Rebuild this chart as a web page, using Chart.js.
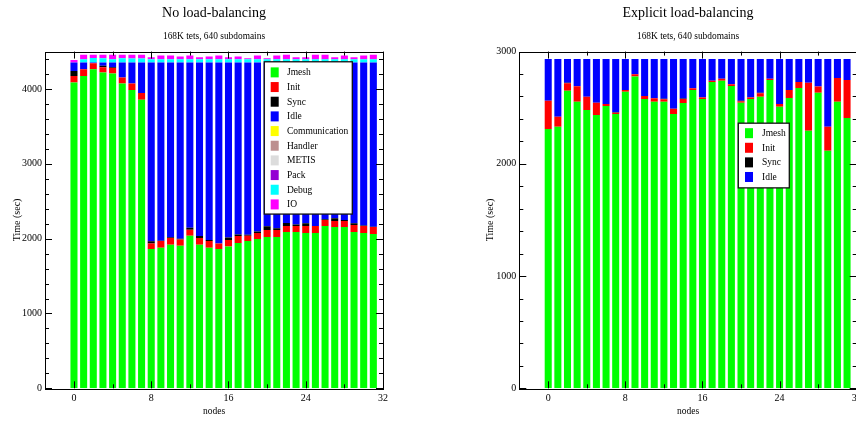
<!DOCTYPE html>
<html>
<head>
<meta charset="utf-8">
<title>Mesh generation timing per node</title>
<style>
  html, body { margin: 0; padding: 0; background: #fff; overflow: hidden; width: 856px; height: 421px; }
  #left  { position: absolute; left: 0;     top: 0; width: 428px; height: 421px; }
  #right { position: absolute; left: 428px; top: 0; width: 520px; height: 421px; }
</style>
<script src="https://cdn.jsdelivr.net/npm/chart.js@4/dist/chart.umd.min.js"></script>
</head>
<body>
<div id="left"><canvas id="noLb" width="428" height="421"></canvas></div>
<div id="right"><canvas id="explicitLb" width="520" height="421"></canvas></div>
<script>
// ---- data -------------------------------------------------------------
const nodes = [0,1,2,3,4,5,6,7,8,9,10,11,12,13,14,15,16,17,18,19,20,21,22,23,24,25,26,27,28,29,30,31];
const xTickValues = [0, 8, 16, 24, 32];
const noLbYTicks = [0, 1000, 2000, 3000, 4000];
const explicitYTicks = [0, 1000, 2000, 3000];

// No load-balancing (seconds per node)
const nlbJmesh   = [4086,4175,4265,4220,4206,4073,3988,3855,1860,1878,1918,1905,2040,1918,1878,1860,1895,1943,1969,1996,2023,2023,2090,2090,2076,2076,2170,2157,2157,2090,2076,2063];
const nlbInit    = [89,90,80,72,76,80,85,93,75,89,92,85,80,92,89,75,88,93,71,80,93,93,80,80,94,94,80,80,80,93,94,94];
const nlbSync    = [67,0,0,17,10,0,0,0,30,5,10,10,25,25,16,0,31,20,12,18,50,23,40,20,36,0,10,36,13,23,5,3];
const nlbIdle    = [111,88,8,44,61,200,280,405,2388,2381,2333,2353,2208,2318,2370,2418,2339,2297,2301,2259,2187,2214,2143,2163,2147,2183,2093,2080,2103,2147,2178,2193];
const nlbComm    = [0,0,0,0,0,0,0,0,0,0,0,0,0,0,0,0,0,0,0,0,0,0,0,0,0,0,0,0,0,0,0,0];
const nlbHandler = [0,0,0,0,0,0,0,0,0,0,0,0,0,0,0,0,0,0,0,0,0,0,0,0,0,0,0,0,0,0,0,0];
const nlbMetis   = [0,0,0,0,0,0,0,0,0,0,0,0,0,0,0,0,0,0,0,0,0,0,0,0,0,0,0,0,0,0,0,0];
const nlbPack    = [0,0,0,0,0,0,0,0,0,0,0,0,0,0,0,0,0,0,0,0,0,0,0,0,0,0,0,0,0,0,0,0];
const nlbDebug   = [0,46,60,59,46,59,55,55,45,45,45,45,45,45,45,45,45,45,45,45,45,45,45,45,45,45,45,45,45,45,45,45];
const nlbIO      = [36,57,43,44,57,44,48,48,27,49,49,36,49,27,36,50,27,36,14,49,12,49,58,27,27,58,58,27,49,27,49,58];

// Explicit load-balancing (seconds per node)
const elbJmesh = [2310,2331,2652,2554,2480,2435,2515,2444,2643,2777,2578,2554,2554,2444,2542,2658,2578,2730,2741,2694,2545,2578,2598,2747,2509,2587,2676,2295,2634,2116,2554,2408];
const elbInit  = [253,89,66,137,118,110,18,11,15,21,26,30,21,46,36,15,12,11,18,15,12,12,31,12,24,71,54,428,54,215,211,339];
const elbSync  = [0,0,4,0,0,0,0,5,0,0,0,0,4,0,4,0,4,0,0,0,5,4,5,0,0,0,0,0,0,0,0,0];
const elbIdle  = [372,515,213,244,337,390,402,475,277,137,331,351,356,445,353,262,341,194,176,226,373,341,301,176,402,277,205,212,247,604,170,188];

// ---- styling ----------------------------------------------------------
const SERIF = "'Liberation Serif', 'Times New Roman', serif";
const COLORS = {
  Jmesh: '#00ff00', Init: '#ff0000', Sync: '#000000', Idle: '#0000ff',
  Communication: '#ffff00', Handler: '#bc8f8f', METIS: '#dcdcdc',
  Pack: '#9400d3', Debug: '#00ffff', IO: '#ff00ff'
};

function ds(label, values) {
  return {
    label, data: values,
    backgroundColor: COLORS[label],
    borderWidth: 0,
    barPercentage: 0.73,
    categoryPercentage: 1.0
  };
}

// Box frame with inward-pointing ticks on all four sides, plus an in-plot legend.
const frameAndLegend = {
  id: 'frameAndLegend',
  afterDraw(chart, args, opts) {
    const { ctx, chartArea: a, scales: { x, y } } = chart;
    ctx.save();
    ctx.strokeStyle = '#000';
    ctx.lineWidth = 1;
    ctx.strokeRect(Math.round(a.left) + 0.5, Math.round(a.top) + 0.5,
                   Math.round(a.right - a.left), Math.round(a.bottom - a.top));
    ctx.beginPath();
    for (let v = 0; v <= x.max; v += opts.xMinor) {
      const px = Math.round(x.getPixelForValue(v)) + 0.5;
      const len = v % opts.xMajor === 0 ? 7 : 4;
      ctx.moveTo(px, a.bottom); ctx.lineTo(px, a.bottom - len);
      ctx.moveTo(px, a.top);    ctx.lineTo(px, a.top + len);
    }
    for (let v = 0; v <= y.max; v += opts.yMinor) {
      const py = Math.round(y.getPixelForValue(v)) + 0.5;
      const len = v % opts.yMajor === 0 ? 7 : 4;
      ctx.moveTo(a.left, py);  ctx.lineTo(a.left + len, py);
      ctx.moveTo(a.right, py); ctx.lineTo(a.right - len, py);
    }
    ctx.stroke();

    // legend
    const L = opts.legend;
    const bx = a.left + L.dx, by = a.top + L.dy;
    ctx.fillStyle = '#fff';
    ctx.fillRect(bx, by, L.w, L.h);
    ctx.lineWidth = 1.3;
    ctx.strokeStyle = '#111';
    ctx.strokeRect(bx, by, L.w, L.h);
    ctx.font = L.fontSize + 'px ' + SERIF;
    ctx.textBaseline = 'middle';
    ctx.textAlign = 'left';
    chart.data.datasets.forEach((d, i) => {
      const cy = by + L.first + i * L.gap;
      ctx.fillStyle = d.backgroundColor;
      ctx.fillRect(bx + L.swX, cy - 5, 8, 10);
      ctx.fillStyle = '#000';
      ctx.fillText(d.label, bx + L.textX, cy + 0.5);
    });
    ctx.restore();
  }
};

function makeChart(canvasId, cfg) {
  const tickFont = { family: SERIF, size: 10 };
  return new Chart(document.getElementById(canvasId), {
    type: 'bar',
    data: { labels: nodes, datasets: cfg.datasets },
    options: {
      responsive: false,
      devicePixelRatio: 1,
      animation: false,
      events: [],
      layout: { padding: 0 },
      plugins: {
        legend: { display: false },
        tooltip: { enabled: false },
        title: {
          display: true, text: cfg.title, color: '#000',
          font: { family: SERIF, size: 14, weight: 'normal' },
          padding: { top: 5, bottom: 0 }
        },
        subtitle: {
          display: true, text: '168K tets, 640 subdomains', color: '#000',
          font: { family: SERIF, size: 9.4, weight: 'normal' },
          padding: { top: 9.3, bottom: 9.2 }
        },
        frameAndLegend: {
          xMinor: 4, xMajor: 8, yMinor: 200, yMajor: 1000,
          legend: cfg.legend
        }
      },
      scales: {
        x: {
          type: 'linear', min: -3, max: 32, stacked: true, offset: false,
          grid: { display: false, drawTicks: false, tickLength: 0, offset: false },
          border: { display: false },
          ticks: { color: '#000', font: tickFont, padding: 4, maxRotation: 0, callback: v => String(v) },
          afterBuildTicks: s => { s.ticks = xTickValues.map(v => ({ value: v })); },
          title: {
            display: true, text: 'nodes', color: '#000',
            font: { family: SERIF, size: 9.5 }, padding: { top: 0, bottom: 3.5 }
          },
          afterFit: s => { s.height = 32.7; }
        },
        y: {
          stacked: true, min: 0, max: cfg.yMax,
          grid: { display: false, drawTicks: false, tickLength: 0 },
          border: { display: false },
          ticks: { color: '#000', font: tickFont, padding: 3, callback: v => String(v) },
          afterBuildTicks: s => { s.ticks = cfg.yTicks.map(v => ({ value: v })); },
          title: {
            display: true, text: 'Time (sec)', color: '#000',
            font: { family: SERIF, size: 10 }, padding: { top: cfg.yTitlePad, bottom: 0 }
          },
          afterFit: s => { s.width = cfg.yWidth; }
        },
        // blank mirror axis on the right keeps the plot centred under its title
        yMirror: {
          type: 'linear', position: 'right', min: 0, max: cfg.yMax,
          grid: { display: false, drawTicks: false },
          border: { display: false },
          ticks: { display: false },
          afterFit: s => { s.width = cfg.yWidth; }
        }
      }
    },
    plugins: [frameAndLegend]
  });
}

makeChart('noLb', {
  title: 'No load-balancing',
  yMax: 4500, yTicks: noLbYTicks,
  yWidth: 45, yTitlePad: 11,
  legend: { dx: 219.3, dy: 10.2, w: 88, h: 152.3, first: 10.6, gap: 14.67, swX: 6.4, textX: 22.7, fontSize: 9.5 },
  datasets: [
    ds('Jmesh', nlbJmesh), ds('Init', nlbInit), ds('Sync', nlbSync), ds('Idle', nlbIdle),
    ds('Communication', nlbComm), ds('Handler', nlbHandler), ds('METIS', nlbMetis),
    ds('Pack', nlbPack), ds('Debug', nlbDebug), ds('IO', nlbIO)
  ]
});

makeChart('explicitLb', {
  title: 'Explicit load-balancing',
  yMax: 3000, yTicks: explicitYTicks,
  yWidth: 91.3, yTitlePad: 56,
  legend: { dx: 219, dy: 71.6, w: 51, h: 64.7, first: 10, gap: 14.6, swX: 6.7, textX: 23.7, fontSize: 9.5 },
  datasets: [
    ds('Jmesh', elbJmesh), ds('Init', elbInit), ds('Sync', elbSync), ds('Idle', elbIdle)
  ]
});
</script>
</body>
</html>
